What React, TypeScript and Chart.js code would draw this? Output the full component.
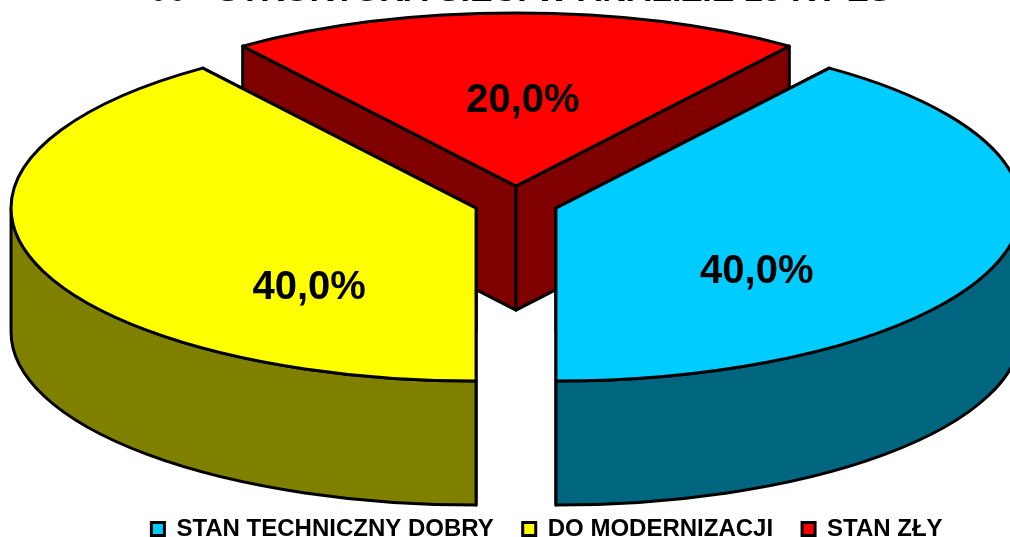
import React, { useEffect, useRef } from "react";
import { Chart, registerables } from "chart.js";

Chart.register(...registerables);

const titleText = "00 - STRUKTURA SIECI W ANALIZIE 15 KV ZS";
const categories = ["STAN TECHNICZNY DOBRY", "DO MODERNIZACJI", "STAN ZŁY"];
const shares = [40, 40, 20];
const topColors = ["#00CCFF", "#FFFF00", "#FF0000"];
const sideColors = ["#006680", "#808000", "#800000"];

const FONT = "'Liberation Sans', Arial, sans-serif";

const pie3d = {
  id: "pie3d",
  afterLayout(chart: any, _a: any, o: any) {
    const l = chart.legend;
    l.left += o.legendShiftX;
    l.right += o.legendShiftX;
    l.top += o.legendShiftY;
    l.bottom += o.legendShiftY;
    const t = chart.titleBlock;
    t.left += o.titleShiftX;
    t.right += o.titleShiftX;
  },
  beforeDatasetDraw(chart: any, _a: any, o: any) {
    const ctx = chart.ctx;
    const meta = chart.getDatasetMeta(0);
    const ds = chart.data.datasets[0];
    const total = ds.data.reduce((a: number, b: number) => a + b, 0);
    const items = meta.data.map((arc: any, i: number) => {
      const p = arc.getProps(["x", "y", "startAngle", "endAngle", "outerRadius"], true);
      const mid = (p.startAngle + p.endAngle) / 2;
      const d = arc.options.offset / 4;
      return {
        i,
        mid,
        a0: p.startAngle,
        a1: p.endAngle,
        rx: p.outerRadius,
        ry: p.outerRadius * o.squash,
        cx: p.x + d * Math.cos(mid),
        cy: p.y + d * Math.sin(mid) * o.explodeY,
      };
    });
    const order = [...items].sort((a: any, b: any) => Math.sin(a.mid) - Math.sin(b.mid));
    ctx.save();
    ctx.lineWidth = o.lineWidth;
    ctx.strokeStyle = "#000";
    ctx.lineJoin = "round";
    const TAU = 2 * Math.PI;
    const norm = (a: number) => ((a % TAU) + TAU) % TAU;
    for (const s of order) {
      const side = o.sideColors[s.i];
      const px = (a: number) => s.cx + s.rx * Math.cos(a);
      const py = (a: number) => s.cy + s.ry * Math.sin(a);
      ctx.fillStyle = side;
      for (const a of [s.a0, s.a1]) {
        ctx.beginPath();
        ctx.moveTo(s.cx, s.cy);
        ctx.lineTo(px(a), py(a));
        ctx.lineTo(px(a), py(a) + o.depth);
        ctx.lineTo(s.cx, s.cy + o.depth);
        ctx.closePath();
        ctx.fill();
        ctx.stroke();
      }
      // visible part of the outer wall: the front half of the ellipse
      let w0 = s.a0;
      if (norm(w0) > Math.PI) w0 += TAU - norm(w0);
      const w1 = Math.min(s.a1, w0 - norm(w0) + Math.PI);
      if (w1 > w0) {
        ctx.beginPath();
        ctx.ellipse(s.cx, s.cy, s.rx, s.ry, 0, w0, w1);
        ctx.lineTo(px(w1), py(w1) + o.depth);
        ctx.ellipse(s.cx, s.cy + o.depth, s.rx, s.ry, 0, w1, w0, true);
        ctx.closePath();
        ctx.fill();
        ctx.stroke();
      }
      ctx.fillStyle = ds.backgroundColor[s.i];
      ctx.beginPath();
      ctx.moveTo(s.cx, s.cy);
      ctx.ellipse(s.cx, s.cy, s.rx, s.ry, 0, s.a0, s.a1);
      ctx.closePath();
      ctx.fill();
      ctx.stroke();
    }
    ctx.fillStyle = "#000";
    ctx.font = o.labelFont;
    ctx.textAlign = "center";
    ctx.textBaseline = "middle";
    for (const s of items) {
      const [fx, fy] = o.labelAt[s.i];
      const pct = ((ds.data[s.i] / total) * 100).toFixed(1).replace(".", ",") + "%";
      ctx.fillText(pct, s.cx + fx * s.rx, s.cy + fy * s.ry);
    }
    ctx.restore();
    return false;
  },
};

export default function App() {
  const ref = useRef<HTMLCanvasElement>(null);
  useEffect(() => {
    const chart = new Chart(ref.current as HTMLCanvasElement, {
      type: "pie",
      data: {
        labels: categories,
        datasets: [
          {
            data: shares,
            backgroundColor: topColors,
            borderColor: "#000000",
            borderWidth: 3,
            offset: 168,
          },
        ],
      },
      plugins: [pie3d],
      options: {
        responsive: false,
        animation: false,
        rotation: 36,
        radius: 465,
        layout: { padding: { left: 22, right: 0, top: 0, bottom: 80 } },
        plugins: {
          tooltip: { enabled: false },
          title: {
            display: true,
            text: titleText,
            color: "#000",
            font: { family: FONT, size: 34, weight: "bold" },
            padding: { top: -29, bottom: 0 },
          },
          legend: {
            position: "bottom",
            labels: {
              color: "#000",
              boxWidth: 13,
              boxHeight: 13,
              padding: 29,
              font: { family: FONT, size: 24, weight: "bold" },
            },
          },
          pie3d: {
            squash: 173 / 465,
            explodeY: 0.4,
            depth: 124,
            lineWidth: 3,
            sideColors,
            labelFont: `bold 40px ${FONT}`,
            labelAt: [
              [0.432, 0.369],
              [-0.359, 0.462],
              [0.015, -0.492],
            ],
            legendShiftX: 31,
            legendShiftY: 94,
            titleShiftX: 4,
          },
        } as any,
      },
    } as any);
    return () => chart.destroy();
  }, []);
  return (
    <div style={{ position: "fixed", left: 0, top: 0, width: 1010, height: 537 }}>
      <canvas ref={ref} width={1010} height={537} style={{ display: "block" }} />
    </div>
  );
}
